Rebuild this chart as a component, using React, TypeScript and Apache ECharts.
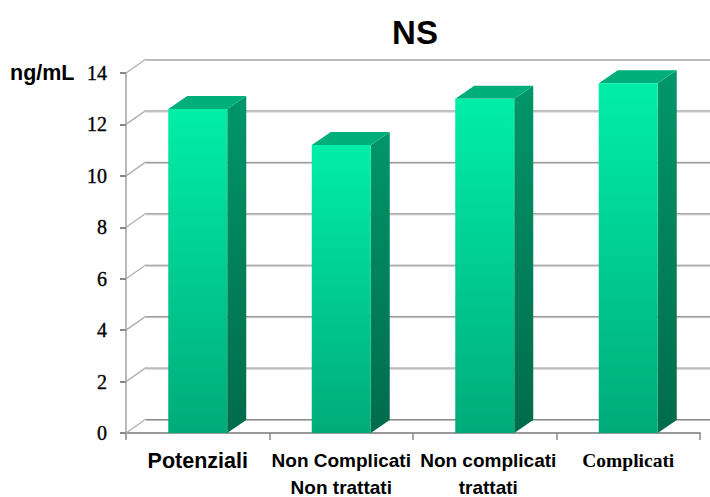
import React, { useEffect, useRef } from "react";
import * as echarts from "echarts";

const categories = ["Potenziali", "Non Complicati\nNon trattati", "Non complicati\ntrattati", "Complicati"];
const values = [12.6, 11.2, 13.0, 13.6];
const gridTicks = [0, 2, 4, 6, 8, 10, 12, 14];

const DEPTH_X = 20;
const DEPTH_Y = -14;
const BAR_WIDTH = 59;
const BAR_DEPTH_X = 19;
const BAR_DEPTH_Y = -13;

function linear(top: string, bottom: string) {
  return new echarts.graphic.LinearGradient(0, 0, 0, 1, [
    { offset: 0, color: top },
    { offset: 1, color: bottom },
  ]);
}

// Back wall and side wall rules of the 3D box
function renderWall(params: any, api: any) {
  const v = api.value(0);
  const sys = params.coordSys;
  const y = api.coord([0, v])[1];
  const x0 = sys.x;
  const x1 = sys.x + DEPTH_X;
  const yb = y + DEPTH_Y;
  const isTop = v === gridTicks[gridTicks.length - 1];
  const children: any[] = [
    {
      type: "polyline",
      shape: { points: [[x0, y], [x1, yb]] },
      style: { stroke: "#b0b0b0", lineWidth: 1.4, fill: "none" },
    },
    {
      type: "line",
      shape: { x1, y1: yb + 0.5, x2: 710, y2: yb + 0.5 },
      style: { stroke: isTop ? "#bdbdbd" : "#8a8a8a", lineWidth: 1 },
    },
    {
      type: "line",
      shape: { x1, y1: yb + 1.5, x2: 710, y2: yb + 1.5 },
      style: { stroke: "#bdbdbd", lineWidth: 1 },
    },
  ];
  return { type: "group", children };
}

// Extruded column: front face, top face, right side face
function renderBar(_params: any, api: any) {
  const idx = api.value(0);
  const [cx, yTop] = api.coord([idx, api.value(1)]);
  const [, yBase] = api.coord([idx, 0]);
  const l = cx - BAR_WIDTH / 2;
  const r = cx + BAR_WIDTH / 2;
  const dx = BAR_DEPTH_X;
  const dy = BAR_DEPTH_Y;
  return {
    type: "group",
    children: [
      {
        type: "polygon",
        shape: { points: [[r, yTop], [r + dx, yTop + dy], [r + dx, yBase + dy], [r, yBase]] },
        style: { fill: linear("#00966b", "#006b4b") },
      },
      {
        type: "polygon",
        shape: { points: [[l, yTop], [l + dx, yTop + dy], [r + dx, yTop + dy], [r, yTop]] },
        style: { fill: "#00ae7c" },
      },
      {
        type: "rect",
        shape: { x: l, y: yTop, width: BAR_WIDTH, height: yBase - yTop },
        style: { fill: linear("#00eea8", "#00ab7a") },
      },
    ],
  };
}

// Each category label has its own typeface; the third one sits slightly right of its band
function formatCategory(v: string, index: number) {
  const style = ["big", "sans", "shifted", "serif"][index];
  return v
    .split("\n")
    .map((line) => `{${style}|${line}}`)
    .join("\n");
}

export default function App() {
  const ref = useRef<HTMLDivElement>(null);

  useEffect(() => {
    const chart = echarts.init(ref.current!, undefined, { renderer: "svg" });
    const sans = { fontFamily: "Liberation Sans", fontWeight: "bold", color: "#000", lineHeight: 27 };
    chart.setOption({
      animation: false,
      backgroundColor: "#ffffff",
      title: {
        text: "NS",
        left: 410,
        top: 11,
        textAlign: "center",
        textStyle: { fontFamily: "Liberation Sans", fontWeight: "bold", fontSize: 33, color: "#000" },
      },
      graphic: [
        {
          type: "text",
          x: 10,
          y: 62,
          style: { text: "ng/mL", fontFamily: "Liberation Sans", fontWeight: "bold", fontSize: 21.5, fill: "#000" },
        },
      ],
      grid: { left: 126, right: 10, top: 73, bottom: 64, outerBoundsMode: "none" },
      xAxis: {
        type: "category",
        data: categories,
        axisLine: { lineStyle: { color: "#999", width: 2 } },
        axisTick: { show: true, length: 7, alignWithLabel: false, lineStyle: { color: "#888", width: 1.5 } },
        axisLabel: {
          margin: 14,
          interval: 0,
          lineHeight: 27,
          color: "#000",
          fontFamily: "Liberation Sans",
          fontWeight: "bold",
          fontSize: 19,
          formatter: formatCategory,
          rich: {
            sans: { ...sans, fontSize: 19 },
            shifted: { ...sans, fontSize: 19, padding: [0, 0, 0, 7] },
            big: { ...sans, fontSize: 21.5 },
            serif: { ...sans, fontFamily: "Liberation Serif", fontSize: 19.5 },
          },
        },
      },
      yAxis: {
        type: "value",
        min: 0,
        max: 14,
        interval: 2,
        splitLine: { show: false },
        axisLine: { show: true, lineStyle: { color: "#a0a0a0", width: 1.5 } },
        axisTick: { show: true, length: 6, lineStyle: { color: "#888", width: 2 } },
        axisLabel: {
          margin: 19,
          color: "#000",
          fontFamily: "Liberation Serif",
          fontSize: 20,
          textBorderColor: "#000",
          textBorderWidth: 0.35,
        },
      },
      series: [
        {
          type: "custom",
          z: 1,
          clip: false,
          silent: true,
          renderItem: renderWall,
          data: gridTicks.map((t) => [t]),
          encode: { y: 0 },
        },
        {
          type: "custom",
          z: 3,
          clip: false,
          silent: true,
          renderItem: renderBar,
          data: values.map((v, i) => [i, v]),
          encode: { x: 0, y: 1 },
        },
      ],
    });
    return () => chart.dispose();
  }, []);

  return <div ref={ref} style={{ position: "absolute", left: 0, top: 0, width: 710, height: 497 }} />;
}
